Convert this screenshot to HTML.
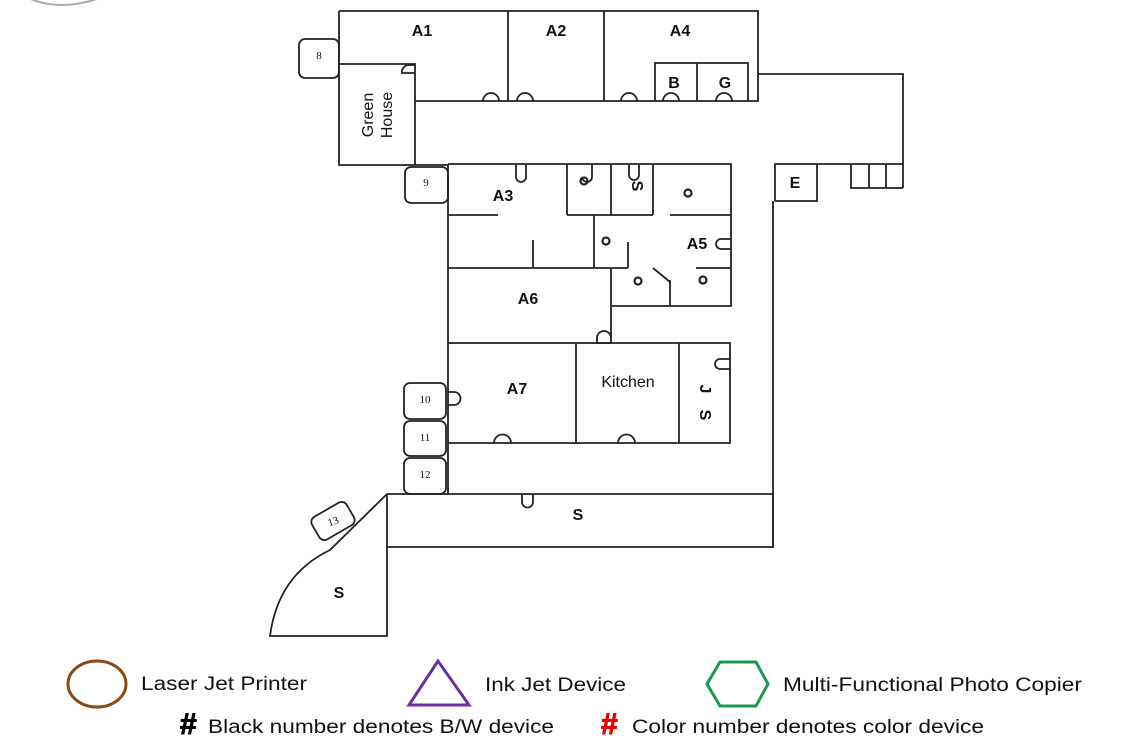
<!DOCTYPE html>
<html><head><meta charset="utf-8"><style>
html,body{margin:0;padding:0;background:#fff;}
svg{display:block;}
text{font-family:"Liberation Sans",sans-serif;}
.b{font-weight:bold;font-size:16px;}
.n{font-family:"Liberation Serif",serif;font-size:11px;}
.l{font-size:19px;}
</style></head><body>
<svg width="1138" height="743" viewBox="0 0 1138 743" xmlns="http://www.w3.org/2000/svg">
<path d="M28 -2 Q60 12 100 -2" fill="none" stroke="#aaa" stroke-width="2"/>
<g fill="none" stroke="#222" stroke-width="1.8">
<path d="M339 11 H758 V101 H415"/>
<line x1="508" y1="11" x2="508" y2="101"/>
<line x1="604" y1="11" x2="604" y2="101"/>
<path d="M655 101 V63 H748 V101"/><line x1="697" y1="63" x2="697" y2="101"/>
<path d="M339 11 V165 H448"/><path d="M339 64 H415 V165"/>
<path d="M758 74 H903 V188"/>
<path d="M817 164 H903"/><path d="M851 164 V188 H903"/><line x1="869" y1="164" x2="869" y2="188"/><line x1="886" y1="164" x2="886" y2="188"/>
<path d="M775 201 V164 H817 V201 H775"/>
<line x1="773" y1="201" x2="773" y2="547"/>
<path d="M448 164 H731 V306 H612"/>
<line x1="448" y1="164" x2="448" y2="494"/>
<line x1="448" y1="215" x2="498" y2="215"/>
<line x1="533" y1="240" x2="533" y2="268"/>
<line x1="448" y1="268" x2="628" y2="268"/>
<line x1="567" y1="164" x2="567" y2="215"/>
<line x1="611" y1="164" x2="611" y2="215"/>
<line x1="653" y1="164" x2="653" y2="215"/>
<line x1="567" y1="215" x2="653" y2="215"/>
<line x1="670" y1="215" x2="731" y2="215"/>
<line x1="594" y1="215" x2="594" y2="268"/>
<line x1="628" y1="242" x2="628" y2="268"/>
<line x1="696" y1="268" x2="731" y2="268"/>
<line x1="670" y1="280" x2="670" y2="306"/>
<line x1="653" y1="268" x2="670" y2="282"/>
<line x1="611" y1="268" x2="611" y2="343"/>
<path d="M448 343 H730 V443 H448"/>
<line x1="576" y1="343" x2="576" y2="443"/>
<line x1="679" y1="343" x2="679" y2="443"/>
<path d="M387 494 H773 V547 H387"/>
<path d="M387 494 V636 H270 Q278 575 330 550 L387 494"/>
<path d="M483 101 a8 8 0 0 1 16 0 M517 101 a8 8 0 0 1 16 0 M621 101 a8 8 0 0 1 16 0 M663 101 a8 8 0 0 1 16 0 M716 101 a8 8 0 0 1 16 0"/>
<path d="M415 65 h-6 a7 7 0 0 0 -7 8 h13"/>
<path d="M516 165 v12 a5 5 0 0 0 10 0 v-12 M592 165 v12 a5 5 0 0 1 -10 0 M629 165 v10 a5 5 0 0 0 10 0 v-10"/>
<path d="M731 239 h-10 a5 5 0 0 0 0 10 h10"/>
<path d="M611 343 h-14 v-5 a7 7 0 0 1 14 0"/>
<path d="M448 392 h6 a5 5 0 0 1 0 13 h-6"/>
<path d="M494 443 a8 8 0 0 1 17 0 M618 443 a8 8 0 0 1 17 0"/>
<path d="M730 369 h-10 a5 5 0 0 1 0 -10 h10"/>
<path d="M522 494 v8 a5 5 0 0 0 11 0 v-8"/>
<rect x="299" y="39" width="40" height="39" rx="6"/>
<rect x="405" y="167" width="43" height="36" rx="6"/>
<rect x="404" y="383" width="42" height="36" rx="6"/>
<rect x="404" y="421" width="42" height="35" rx="6"/>
<rect x="404" y="458" width="42" height="36" rx="6"/>
<rect x="313" y="508" width="40" height="26" rx="6" transform="rotate(-30 333 521)"/>
</g>
<g fill="none" stroke="#222" stroke-width="2.2">
<circle cx="584" cy="181" r="3.5"/><circle cx="688" cy="193" r="3.5"/><circle cx="606" cy="241" r="3.5"/>
<circle cx="638" cy="281" r="3.5"/><circle cx="703" cy="280" r="3.5"/>
</g>
<g fill="#111">
<text class="b" x="422" y="36" text-anchor="middle">A1</text>
<text class="b" x="556" y="36" text-anchor="middle">A2</text>
<text class="b" x="680" y="36" text-anchor="middle">A4</text>
<text class="b" x="674" y="88" text-anchor="middle">B</text>
<text class="b" x="725" y="88" text-anchor="middle">G</text>
<text x="373" y="115" font-size="16" text-anchor="middle" transform="rotate(-90 373 115)">Green</text>
<text x="392" y="115" font-size="16" text-anchor="middle" transform="rotate(-90 392 115)">House</text>
<text class="b" x="503" y="201" text-anchor="middle">A3</text>
<text class="b" x="632" y="186" text-anchor="middle" transform="rotate(90 632 186)">S</text>
<text class="b" x="697" y="249" text-anchor="middle" font-size="13">A5</text>
<text class="b" x="528" y="304" text-anchor="middle">A6</text>
<text class="b" x="517" y="394" text-anchor="middle">A7</text>
<text x="628" y="387" font-size="16" text-anchor="middle">Kitchen</text>
<text class="b" x="700" y="389" text-anchor="middle" transform="rotate(90 700 389)">J</text>
<text class="b" x="700" y="415" text-anchor="middle" transform="rotate(90 700 415)">S</text>
<text class="b" x="795" y="188" text-anchor="middle">E</text>
<text class="b" x="578" y="520" text-anchor="middle">S</text>
<text class="b" x="339" y="598" text-anchor="middle">S</text>
<text class="n" x="319" y="59" text-anchor="middle" font-size="9">8</text>
<text class="n" x="426" y="186" text-anchor="middle">9</text>
<text class="n" x="425" y="403" text-anchor="middle">10</text>
<text class="n" x="425" y="441" text-anchor="middle">11</text>
<text class="n" x="425" y="478" text-anchor="middle">12</text>
<text class="n" x="333" y="525" text-anchor="middle" transform="rotate(-20 333 521)">13</text>
</g>
<ellipse cx="97" cy="684" rx="29" ry="23" fill="none" stroke="#8b4a14" stroke-width="3"/>
<text class="l" x="141" y="690" fill="#111" textLength="166" lengthAdjust="spacingAndGlyphs">Laser Jet Printer</text>
<polygon points="438,661 409,705 469,705" fill="none" stroke="#6a2fa0" stroke-width="3"/>
<text class="l" x="485" y="691" fill="#111" textLength="141" lengthAdjust="spacingAndGlyphs">Ink Jet Device</text>
<polygon points="720,662 756,662 768,684 756,706 720,706 707,684" fill="none" stroke="#1a9a50" stroke-width="3"/>
<text class="l" x="783" y="691" fill="#111" textLength="299" lengthAdjust="spacingAndGlyphs">Multi-Functional Photo Copier</text>
<text x="180" y="734" font-size="30" font-weight="bold" fill="#000" stroke="#000" stroke-width="1">#</text>
<text class="l" x="208" y="733" fill="#111" textLength="346" lengthAdjust="spacingAndGlyphs">Black number denotes B/W device</text>
<text x="601" y="734" font-size="30" font-weight="bold" fill="#e00" stroke="#e00" stroke-width="1">#</text>
<text class="l" x="632" y="733" fill="#111" textLength="352" lengthAdjust="spacingAndGlyphs">Color number denotes color device</text>
</svg>
</body></html>
